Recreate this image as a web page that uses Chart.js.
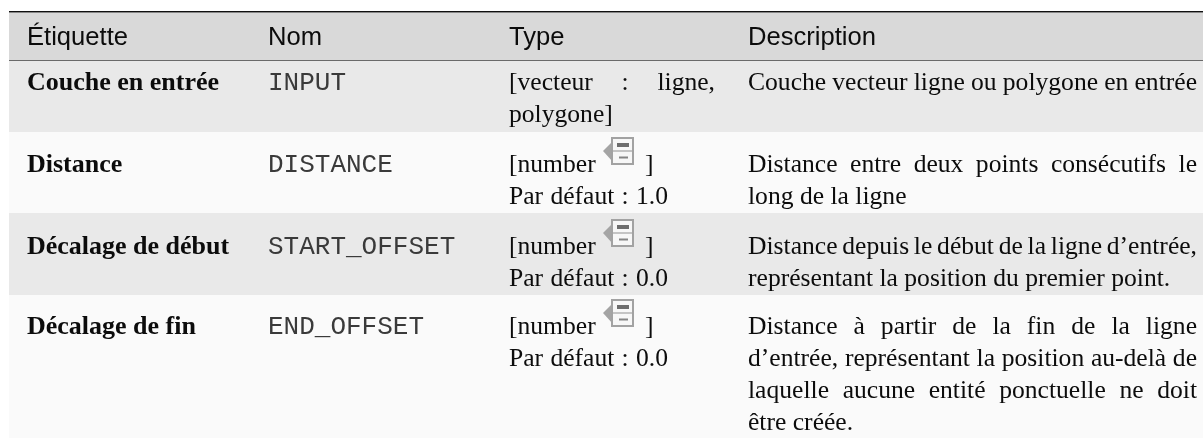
<!DOCTYPE html>
<html>
 <head>
  <meta charset="utf-8" />
  <title></title>
  <style>
    html, body { margin: 0; padding: 0; background: #fff; }
    canvas { display: block; }
  </style>
 </head>
 <body>
    <canvas id="tableChart" width="1203" height="438"></canvas>

    <script src="https://cdnjs.cloudflare.com/ajax/libs/Chart.js/4.4.1/chart.umd.js"></script>
  <script>

// table content
const columnTitles = ['Étiquette', 'Nom', 'Type', 'Description'];
const rowLabels = ['Couche en entrée', 'Distance', 'Décalage de début', 'Décalage de fin'];
const rowNames = ['INPUT', 'DISTANCE', 'START_OFFSET', 'END_OFFSET'];
const rowTypes = [
    ['[vecteur : ligne,', 'polygone]'],
    ['[number', 'Par défaut : 1.0'],
    ['[number', 'Par défaut : 0.0'],
    ['[number', 'Par défaut : 0.0']
];
const rowDescriptions = [
    ['Couche vecteur ligne ou polygone en entrée'],
    ['Distance entre deux points consécutifs le', 'long de la ligne'],
    ['Distance depuis le début de la ligne d’entrée,', 'représentant la position du premier point.'],
    ['Distance à partir de la fin de la ligne', 'd’entrée, représentant la position au-delà de', 'laquelle aucune entité ponctuelle ne doit', 'être créée.']
];

// row boundaries, on a 0-438 axis
const headerEdges = [13, 60];
const rowEdges = [61, 132, 213, 295, 438];
const rowBaselines = [90, 172, 254, 334];

// layout
const tableLeft = 9, tableRight = 1203;
const columnX = [27, 268, 509, 748];
const typeRight = 715, defaultRight = 668, descriptionRight = 1197;
const lineHeight = 32, headerBaseline = 45;
const bandColors = ['#e9e9e9', '#fafafa'];
const textColor = '#0c0c0c';

function band(top, bottom, color) {
    return {
        data: [{x: tableLeft, y: top}, {x: tableRight, y: top}],
        showLine: true, pointRadius: 0, borderWidth: 0,
        backgroundColor: color, fill: {value: bottom}
    };
}
function rule(y, color, width) {
    return {
        data: [{x: tableLeft, y: y}, {x: tableRight, y: y}],
        showLine: true, pointRadius: 0, borderWidth: width, borderColor: color, fill: false
    };
}

const datasets = [band(headerEdges[0], headerEdges[1], '#d9d9d9')];
for (let i = 0; i < rowLabels.length; i++) {
    datasets.push(band(rowEdges[i], rowEdges[i + 1], bandColors[i % 2]));
}
datasets.push(rule(11.8, '#111111', 1.4));
datasets.push(rule(60.2, '#6a6a6a', 1.4));

function drawLine(ctx, text, x, y, right) {
    if (right) {
        const gaps = text.split(' ').length - 1;
        ctx.wordSpacing = (right - x - ctx.measureText(text).width) / gaps + 'px';
    }
    ctx.fillText(text, x, y);
    ctx.wordSpacing = '0px';
}

function drawIcon(ctx, x, y) {
    // x/y = top left of the icon body, arrow sticks out on the left
    ctx.fillStyle = '#a4a4a4';
    ctx.beginPath();
    ctx.moveTo(x - 9, y + 13);
    ctx.lineTo(x + 1, y + 3);
    ctx.lineTo(x + 1, y + 24);
    ctx.closePath();
    ctx.fill();
    ctx.fillStyle = '#f7f7f7';
    ctx.fillRect(x, y, 21, 26);
    ctx.strokeStyle = '#a2a2a2';
    ctx.lineWidth = 2;
    ctx.strokeRect(x, y, 21, 26);
    ctx.lineWidth = 1.2;
    ctx.beginPath();
    ctx.moveTo(x, y + 13);
    ctx.lineTo(x + 21, y + 13);
    ctx.stroke();
    ctx.fillStyle = '#6d6d6d';
    ctx.fillRect(x + 5, y + 5, 12, 4);
    ctx.fillStyle = '#858585';
    ctx.fillRect(x + 7, y + 18.5, 9, 2);
}

const tableText = {
    id: 'tableText',
    afterDraw(chart) {
        const ctx = chart.ctx, xs = chart.scales.x, ys = chart.scales.y;
        const px = v => xs.getPixelForValue(v), py = v => ys.getPixelForValue(v);
        ctx.save();
        ctx.textBaseline = 'alphabetic';
        ctx.fillStyle = textColor;

        ctx.font = '25.6px "Liberation Sans"';
        columnTitles.forEach((t, c) => ctx.fillText(t, px(columnX[c]), py(headerBaseline)));

        rowLabels.forEach((label, r) => {
            const base = rowBaselines[r];
            ctx.fillStyle = textColor;
            ctx.font = 'bold 26px "Liberation Serif"';
            ctx.fillText(label, px(columnX[0]), py(base));

            ctx.fillStyle = '#3a3a3a';
            ctx.font = '26px "Liberation Mono"';
            ctx.fillText(rowNames[r], px(columnX[1]), py(base));

            ctx.fillStyle = textColor;
            ctx.font = '25.6px "Liberation Serif"';
            rowTypes[r].forEach((line, l) => {
                const y = py(base + l * lineHeight);
                if (line === '[number') {
                    ctx.fillText(line, px(columnX[2]), y);
                    ctx.fillText(']', px(645), y);
                    ctx.save();
                    drawIcon(ctx, px(612), y - 34);
                    ctx.restore();
                } else if (line.startsWith('Par')) {
                    drawLine(ctx, line, px(columnX[2]), y, px(defaultRight));
                } else {
                    const justify = l < rowTypes[r].length - 1;
                    drawLine(ctx, line, px(columnX[2]), y, justify ? px(typeRight) : null);
                }
            });
            rowDescriptions[r].forEach((line, l) => {
                const justify = l < rowDescriptions[r].length - 1 || rowDescriptions[r].length === 1;
                drawLine(ctx, line, px(columnX[3]), py(base + l * lineHeight), justify ? px(descriptionRight) : null);
            });
        });
        ctx.restore();
    }
};

new Chart(document.getElementById('tableChart'), {
    type: 'scatter',
    data: {datasets: datasets},
    options: {
        responsive: false,
        animation: false,
        layout: {padding: 0},
        plugins: {legend: {display: false}, tooltip: {enabled: false}},
        scales: {
            x: {type: 'linear', display: false, min: 0, max: 1203},
            y: {type: 'linear', display: false, min: 0, max: 438, reverse: true}
        }
    },
    plugins: [tableText]
});

  </script>

</body>
</html>
